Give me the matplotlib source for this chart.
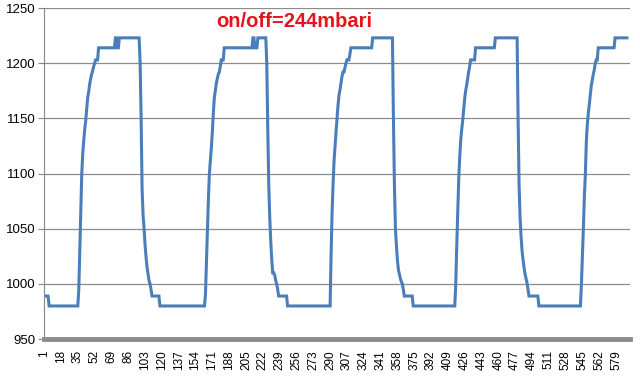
import numpy as np
import matplotlib.pyplot as plt

# pressure samples, left to right
# flat stretches as (value, samples), ramps sample by sample
start = [(989, 5), (980, 30)]
rise1 = [995, 1030, 1065, 1100, 1118, 1130, 1140, 1148, 1158, 1169,
         1174, 1181, 1186, 1190, 1193, 1197, 1200, 1203, 1203, 1203]
top1 = [(1214, 17), (1223, 2), (1214, 2), (1223, 21)]
fall1 = [1200, 1150, 1085, 1062, 1050, 1035, 1024, 1015, 1009, 1003, 1000, 995]
low1 = [(989, 8), (980, 46)]
rise2 = [990, 1020, 1050, 1077, 1100, 1112, 1124, 1138, 1155, 1169,
         1175, 1182, 1186, 1190, 1192, 1197, 1203, 1203, 1203]
top2 = [(1214, 29), (1223, 2), (1214, 3), (1223, 9)]
fall2 = [1200, 1140, 1090, 1060, 1039, 1022, 1010, 1010, 1008, 1003, 1000, 995]
low2 = [(989, 9), (980, 44)]
rise3 = [1027, 1065, 1090, 1112, 1125, 1138, 1150, 1162, 1171, 1176,
         1182, 1188, 1192, 1192, 1196, 1200, 1203, 1203, 1203, 1208]
top3 = [(1214, 22), (1223, 21)]
fall3 = [1150, 1090, 1051, 1035, 1022, 1013, 1009, 1005, 1002, 1000, 995]
low3 = [(989, 9), (980, 43)]
rise4 = [1000, 1035, 1065, 1095, 1115, 1130, 1140, 1148, 1158, 1168,
         1175, 1180, 1186, 1192, 1197, 1203, 1203, 1203, 1203, 1203]
top4 = [(1214, 20), (1223, 23)]
fall4 = [1150, 1090, 1060, 1043, 1030, 1022, 1015, 1009, 1005, 1001, 995]
low4 = [(989, 10), (980, 43)]
rise5 = [1000, 1025, 1051, 1080, 1100, 1130, 1145, 1155, 1163, 1172,
         1180, 1185, 1190, 1194, 1200, 1203, 1203]
top5 = [(1214, 17), (1223, 13)]

title = 'on/off=244mbari'


def flat(runs):
    return [v for v, n in runs for _ in range(n)]


pressure = np.concatenate([
    flat(start), rise1, flat(top1), fall1, flat(low1),
    rise2, flat(top2), fall2, flat(low2),
    rise3, flat(top3), fall3, flat(low3),
    rise4, flat(top4), fall4, flat(low4),
    rise5, flat(top5),
])
samples = np.arange(1, len(pressure) + 1)

plt.rcParams['font.family'] = ['Liberation Sans', 'DejaVu Sans']

fig = plt.figure(figsize=(6.4, 3.84), dpi=100)
ax = fig.add_axes([0.069, 0.117, 0.916, 0.862])

ax.plot(samples, pressure, color='#4a7ebb', lw=2.2, solid_joinstyle='miter')

ax.set_ylim(950, 1250)
ax.set_xlim(1, len(pressure) + 3.5)
ax.set_yticks(np.arange(950, 1251, 50))
ax.set_xticks(samples[::17])
ax.set_xticklabels([str(s) for s in samples[::17]], rotation=90, fontsize=8.5)
ax.tick_params(axis='y', labelsize=9.5, length=4, color='#868686', pad=2)
ax.tick_params(axis='x', length=0, pad=8)
ax.yaxis.grid(True, color='#8c8c8c', lw=0.9)
ax.set_axisbelow(True)

for side in ['top', 'right']:
    ax.spines[side].set_visible(False)
ax.spines['left'].set_color('#868686')
ax.spines['bottom'].set_color('#8c8c8c')
ax.spines['bottom'].set_linewidth(3.5)

ax.text(0.427, 0.958, title, transform=ax.transAxes, ha='center', va='center',
        color='#e3141c', fontsize=14.5, fontweight='bold')

fig.savefig('out.png', dpi=100)
